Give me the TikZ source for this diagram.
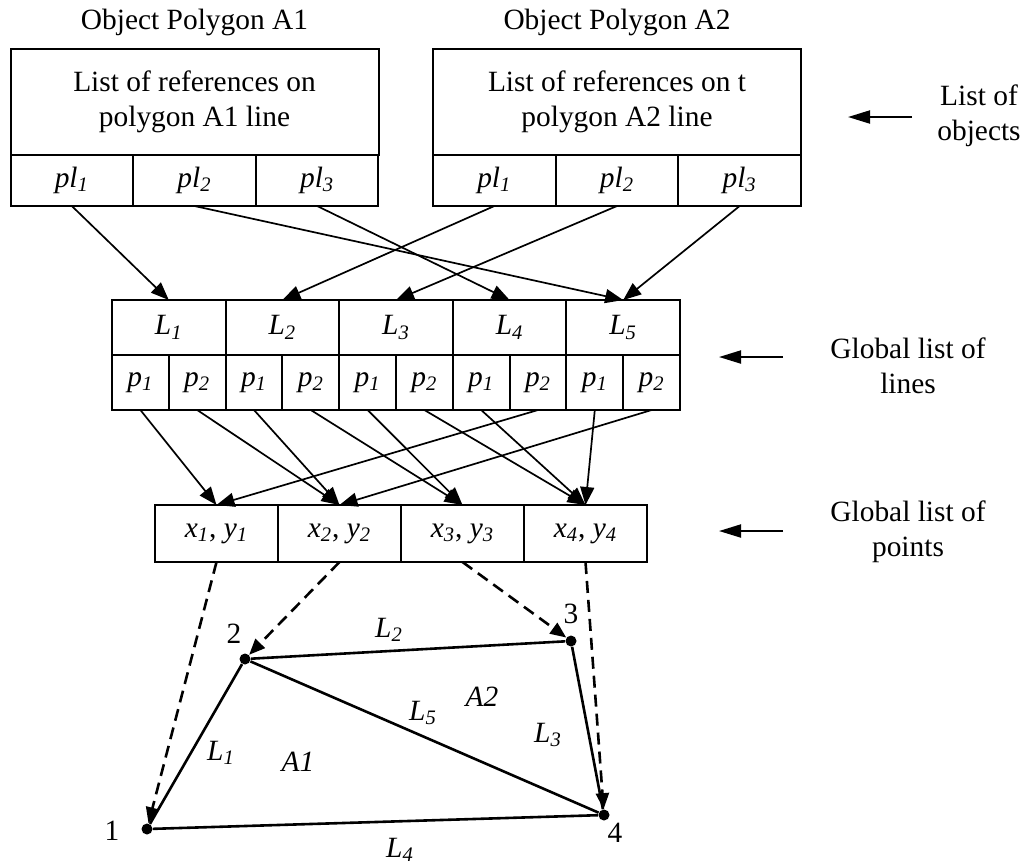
\documentclass[tikz,border=0pt]{standalone}
\usepackage{fontspec}
\setmainfont{Liberation Serif}
\usepackage{tikz}
\usetikzlibrary{arrows.meta, positioning, calc}

% italic symbol with italic subscript
\newcommand{\sbi}[2]{\textit{#1}\textsubscript{\textit{#2}}}

\begin{document}
\begin{tikzpicture}[x=1pt, y=-1pt,
    every node/.style={font=\fontsize{14.7}{17.5}\selectfont},
    cell/.style={draw, line width=1pt, outer sep=0pt, inner sep=0pt},
    head/.style={cell, minimum width=184pt, minimum height=53pt, align=center},
    plcell/.style={cell, minimum width=61.33pt, minimum height=25.5pt},
    lcell/.style={cell, minimum width=56.8pt, minimum height=27.5pt},
    pcell/.style={cell, minimum width=28.4pt, minimum height=27.5pt},
    xcell/.style={cell, minimum width=61.5pt, minimum height=28.5pt},
    link/.style={line width=0.85pt, -{Triangle[length=9pt, width=7pt]}},
    dlink/.style={line width=1.3pt, dash pattern=on 6pt off 3.5pt, -{Triangle[length=8pt, width=6.5pt]}},
    sidearrow/.style={line width=1pt, -{Triangle[length=11pt, width=6.5pt]}},
    polyedge/.style={line width=1.3pt},
    vertex/.style={circle, fill, inner sep=0pt, minimum size=5.5pt},
]
    \useasboundingbox (0,0) rectangle (510,432);

    % objects A1 and A2
    \node[head] (hdrA1) at (97.25,51) {List of references on\\polygon A1 line};
    \node[head] (hdrA2) at (308.5,51) {List of references on t\\polygon A2 line};
    \node[above=3pt of hdrA1] (titleA1) {Object Polygon A1};
    \node[above=3pt of hdrA2] (titleA2) {Object Polygon A2};

    \node[plcell, anchor=north west] (A1pl1) at (hdrA1.south west) {\sbi{pl}{1}};
    \node[plcell, right=0pt of A1pl1] (A1pl2) {\sbi{pl}{2}};
    \node[plcell, right=0pt of A1pl2] (A1pl3) {\sbi{pl}{3}};
    \node[plcell, anchor=north west] (A2pl1) at (hdrA2.south west) {\sbi{pl}{1}};
    \node[plcell, right=0pt of A2pl1] (A2pl2) {\sbi{pl}{2}};
    \node[plcell, right=0pt of A2pl2] (A2pl3) {\sbi{pl}{3}};

    % global list of lines
    \node[lcell, anchor=north west] (L1) at (56,150) {\sbi{L}{1}};
    \node[lcell, right=0pt of L1] (L2) {\sbi{L}{2}};
    \node[lcell, right=0pt of L2] (L3) {\sbi{L}{3}};
    \node[lcell, right=0pt of L3] (L4) {\sbi{L}{4}};
    \node[lcell, right=0pt of L4] (L5) {\sbi{L}{5}};

    \node[pcell, anchor=north west] (L1p1) at (L1.south west) {\sbi{p}{1}};
    \node[pcell, right=0pt of L1p1] (L1p2) {\sbi{p}{2}};
    \node[pcell, right=0pt of L1p2] (L2p1) {\sbi{p}{1}};
    \node[pcell, right=0pt of L2p1] (L2p2) {\sbi{p}{2}};
    \node[pcell, right=0pt of L2p2] (L3p1) {\sbi{p}{1}};
    \node[pcell, right=0pt of L3p1] (L3p2) {\sbi{p}{2}};
    \node[pcell, right=0pt of L3p2] (L4p1) {\sbi{p}{1}};
    \node[pcell, right=0pt of L4p1] (L4p2) {\sbi{p}{2}};
    \node[pcell, right=0pt of L4p2] (L5p1) {\sbi{p}{1}};
    \node[pcell, right=0pt of L5p1] (L5p2) {\sbi{p}{2}};

    % global list of points
    \node[xcell, anchor=north west] (X1) at (77.5,252.5) {\sbi{x}{1}, \sbi{y}{1}};
    \node[xcell, right=0pt of X1] (X2) {\sbi{x}{2}, \sbi{y}{2}};
    \node[xcell, right=0pt of X2] (X3) {\sbi{x}{3}, \sbi{y}{3}};
    \node[xcell, right=0pt of X3] (X4) {\sbi{x}{4}, \sbi{y}{4}};

    % captions on the right
    \node[align=center] (lblObjects) at (489.5,58) {List of\\objects};
    \node[align=center] (lblLines) at (454,183) {Global list of\\lines};
    \node[align=center] (lblPoints) at (454,266) {Global list of\\points};
    \coordinate (objTail) at (456,58.5);
    \coordinate (objTip) at (424,58.5);
    \coordinate (linesTail) at (391.5,178.5);
    \coordinate (linesTip) at (359.5,178.5);
    \coordinate (pointsTail) at (391.5,265.5);
    \coordinate (pointsTip) at (359.5,265.5);
    \draw[sidearrow] (objTail) -- (objTip);
    \draw[sidearrow] (linesTail) -- (linesTip);
    \draw[sidearrow] (pointsTail) -- (pointsTip);

    % object references to lines
    \draw[link] (A1pl1.south) -- (L1.north);
    \draw[link] (A1pl2.south) -- (L5.north);
    \draw[link] (A1pl3.south) -- (L4.north);
    \draw[link] (A2pl1.south) -- (L2.north);
    \draw[link] (A2pl2.south) -- (L3.north);
    \draw[link] (A2pl3.south) -- (L5.north);

    % line ends to points
    \draw[link] (L1p1.south) -- (X1.north);
    \draw[link] (L1p2.south) -- (X2.north);
    \draw[link] (L2p1.south) -- (X2.north);
    \draw[link] (L2p2.south) -- (X3.north);
    \draw[link] (L3p1.south) -- (X3.north);
    \draw[link] (L3p2.south) -- (X4.north);
    \draw[link] (L4p1.south) -- (X4.north);
    \draw[link] (L4p2.south) -- (X1.north);
    \draw[link] (L5p1.south) -- (X4.north);
    \draw[link] (L5p2.south) -- (X2.north);

    % the polygons
    \node[vertex] (P1) at (73.5,414.5) {};
    \node[vertex] (P2) at (122.5,329.5) {};
    \node[vertex] (P3) at (285.5,320.5) {};
    \node[vertex] (P4) at (302,407.5) {};
    \node (num1) at (56,415.5) {1};
    \node (num2) at (117,317) {2};
    \node[above=2pt of P3] (num3) {3};
    \node (num4) at (307.5,416.5) {4};

    \draw[polyedge] (P1) -- (P2);
    \draw[polyedge] (P2) -- (P3);
    \draw[polyedge] (P3) -- (P4);
    \draw[polyedge] (P1) -- (P4);
    \draw[polyedge] (P2) -- (P4);

    \node (nameL1) at (110.5,376.5) {\sbi{L}{1}};
    \node (nameL2) at (194.5,315) {\sbi{L}{2}};
    \node (nameL3) at (274,367.5) {\sbi{L}{3}};
    \node (nameL4) at (200,425) {\sbi{L}{4}};
    \node (nameL5) at (211.5,356.5) {\sbi{L}{5}};
    \node (nameA1) at (149,381) {\textit{A1}};
    \node (nameA2) at (241,348.5) {\textit{A2}};

    % coordinates to polygon vertices
    \draw[dlink] (X1.south) -- (P1);
    \draw[dlink] (X2.south) -- (P2);
    \draw[dlink] (X3.south) -- (P3);
    \draw[dlink] (X4.south) -- (P4);
\end{tikzpicture}
\end{document}
